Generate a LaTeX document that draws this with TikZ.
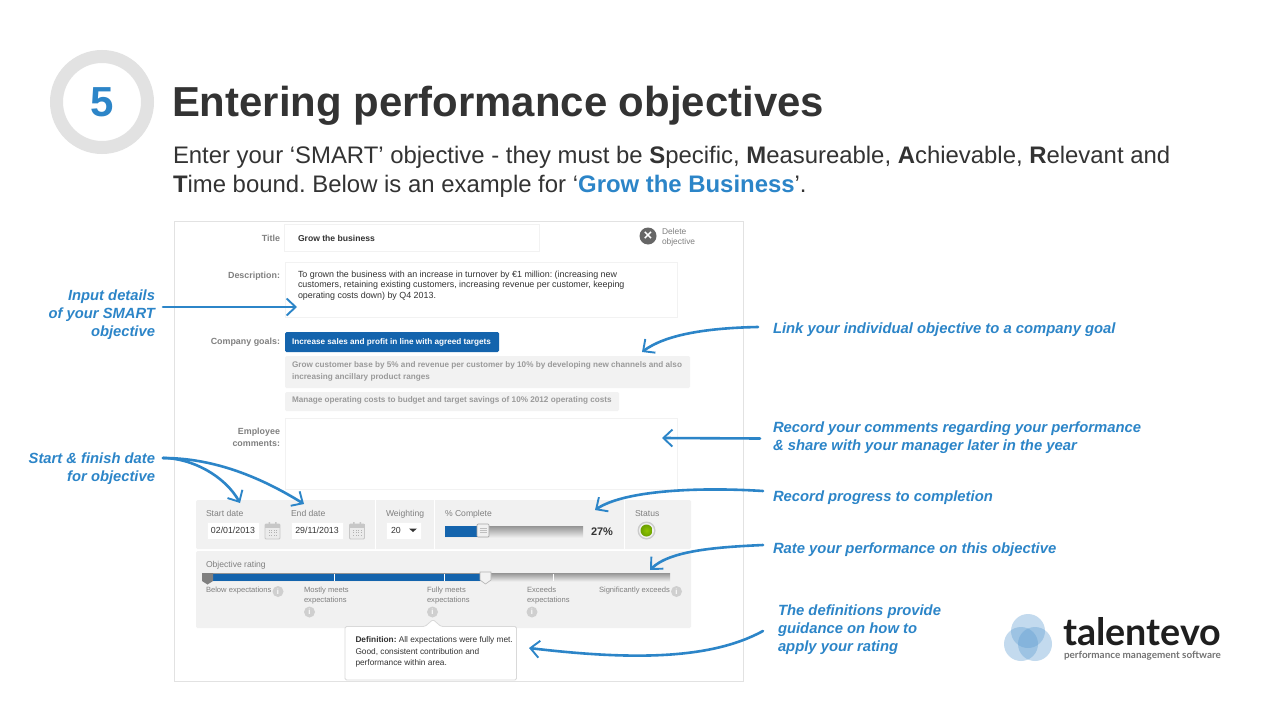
\documentclass[tikz,border=0pt]{standalone}
\usepackage{fontspec}
\setmainfont{Liberation Sans}
\newfontfamily\logofont{Lato}
\usetikzlibrary{arrows.meta,shapes.geometric}
\frenchspacing
\definecolor{hand}{HTML}{2C85C8}
\definecolor{ink}{HTML}{333333}
\definecolor{barblue}{HTML}{1464AD}
\definecolor{panel}{HTML}{F1F1F1}
\definecolor{edge}{HTML}{E2E2E2}
\definecolor{soft}{HTML}{F2F2F2}
\definecolor{lab}{HTML}{808080}
\definecolor{infoc}{HTML}{CFCFCF}
\definecolor{logoblue}{HTML}{5B9BD0}
\definecolor{ledlight}{HTML}{8FC400}
\definecolor{leddark}{HTML}{6BA000}
\tikzset{
  x=1pt,y=-1pt,
  txt/.style={inner sep=0pt,outer sep=0pt},
  headline/.style={txt,anchor=base west,text=ink,font=\fontsize{41.9}{48}\selectfont\bfseries},
  intro/.style={txt,anchor=base west,text=ink,font=\fontsize{23.9}{29}\selectfont},
  noteL/.style={txt,anchor=north east,align=right,text=hand,font=\fontsize{14.76}{18}\selectfont\bfseries\itshape},
  noteR/.style={txt,anchor=north west,align=left,text=hand,font=\fontsize{14.82}{18}\selectfont\bfseries\itshape},
  flabel/.style={txt,anchor=base east,align=right,text=lab,font=\fontsize{8.9}{12}\selectfont\bfseries},
  small/.style={txt,anchor=base west,text=lab,font=\fontsize{8.6}{10.4}\selectfont},
  smallblock/.style={txt,anchor=north west,align=left,text=lab,font=\fontsize{7.6}{10.4}\selectfont},
  body/.style={txt,anchor=north west,align=left,text=ink,font=\fontsize{8.9}{10.4}\selectfont},
  goal/.style={txt,anchor=north west,align=left,text=lab!80!white,font=\fontsize{8.17}{12}\selectfont\bfseries},
  fieldbox/.style={draw=soft,fill=white,line width=.8pt},
  softbox/.style={fill=soft,rounded corners=1.5pt},
  panelbox/.style={fill=panel,rounded corners=1.5pt},
  inputbox/.style={fill=white,draw=soft,line width=.5pt},
  infodot/.style={circle,fill=infoc,text=white,inner sep=0pt,minimum size=11pt,font=\fontsize{7.5}{7.5}\selectfont\bfseries},
  track/.style={top color=black!42,bottom color=black!8},
  sketch/.style={draw=hand,line width=2.6pt,line cap=round,-{Straight Barb[length=9pt,width=17pt,line width=1.9pt]}},
}
\begin{document}
\begin{tikzpicture}
\useasboundingbox (0,0) rectangle (1280,720);
\fill[white] (0,0) rectangle (1280,720);

% number badge
\node[circle,draw=edge,line width=13pt,minimum size=91pt,inner sep=0pt,text=hand,font=\fontsize{42}{44}\selectfont\bfseries] (badge) at (102,102) {5};
\node[headline] (heading) at (172,116) {Entering performance objectives};
\node[intro] (l1) at (173,163.5) {Enter your ‘SMART’ objective - they must be \textbf{S}pecific, \textbf{M}easureable, \textbf{A}chievable, \textbf{R}elevant and};
\node[intro] (l2) at (173,192) {\textbf{T}ime bound. Below is an example for ‘\textcolor{hand}{\textbf{Grow the Business}}’.};

% form frame
\draw[edge,fill=white,line width=1pt] (174.5,221.5) rectangle (743.5,681.5);
\node[flabel] (tl) at (280,241) {Title};
\draw[fieldbox] (284.5,224.5) rectangle (539.5,251.5);
\node[txt,anchor=base west,text=ink,font=\fontsize{8.6}{10}\selectfont\bfseries] (tv) at (298,241) {Grow the business};
\node[circle,fill=black!60,text=white,inner sep=0pt,minimum size=17pt,font=\fontsize{15}{15}\selectfont\bfseries] (del) at (648,236) {×};
\node[smallblock,font=\fontsize{8.4}{10.4}\selectfont] (delt) at (662,228) {Delete\\objective};

\node[flabel] (dl) at (280,278.5) {Description:};
\draw[fieldbox] (285.5,262.5) rectangle (677.5,317.5);
\node[body] (dv) at (298,271) {To grown the business with an increase in turnover by €1 million: (increasing new\\customers, retaining existing customers, increasing revenue per customer, keeping\\operating costs down) by Q4 2013.};

\node[flabel] (gl) at (280,344) {Company goals:};
\fill[barblue,rounded corners=1.5pt] (285,332) rectangle (499,352);
\node[txt,anchor=base west,text=white,font=\fontsize{8.17}{10}\selectfont\bfseries] (g1) at (292,344.5) {Increase sales and profit in line with agreed targets};
\fill[softbox] (285,356) rectangle (690,388);
\node[goal] (g2) at (292,361.5) {Grow customer base by 5\% and revenue per customer by 10\% by developing new channels and also\\increasing ancillary product ranges};
\fill[softbox] (285,392) rectangle (619,411);
\node[goal] (g3) at (292,397) {Manage operating costs to budget and target savings of 10\% 2012 operating costs};

\node[flabel] (cl) at (280,434.5) {Employee};
\node[flabel] (cl2) at (280,446.5) {comments:};
\draw[fieldbox] (285.5,418.5) rectangle (677.5,489.5);

% date panel
\fill[panelbox] (196,500) rectangle (691,549);
\draw[white,line width=.8pt] (375.5,500) -- (375.5,549) (434.5,500) -- (434.5,549) (624.5,500) -- (624.5,549);
\node[small] (sd) at (206,516) {Start date};
\node[small] (ed) at (291,516) {End date};
\node[small] (wg) at (386,516) {Weighting};
\node[small] (pc) at (445,516) {\% Complete};
\node[small] (st) at (635,516) {Status};
\draw[inputbox] (207,522) rectangle (259,539);
\node[txt,text=ink,font=\fontsize{8.8}{10}\selectfont] (sdv) at (233,530.5) {02/01/2013};
\draw[inputbox] (291,522) rectangle (343,539);
\node[txt,text=ink,font=\fontsize{8.8}{10}\selectfont] (edv) at (317,530.5) {29/11/2013};
\foreach \cx in {272.5,357} {
  \draw[black!22,fill=white!92!black,line width=.8pt,rounded corners=1pt] (\cx-7.5,524) rectangle (\cx+7.5,539);
  \fill[black!22] (\cx-7.5,524) rectangle (\cx+7.5,527.5);
  \fill[black!22] (\cx-4,522) rectangle (\cx-2.5,525) (\cx+2.5,522) rectangle (\cx+4,525);
  \foreach \gx in {-4,-1.5,1,3.5} \foreach \gy in {529.5,532,534.5} \fill[black!30] (\cx+\gx,\gy) rectangle +(1.3,1.3);
}
\draw[inputbox] (386,522) rectangle (421,539);
\node[txt,anchor=base west,text=ink,font=\fontsize{8.8}{10}\selectfont] (wv) at (391,533.5) {20};
\fill[ink] (409,528.5) -- (417,528.5) -- (413,532) -- cycle;
\fill[track] (445,526) rectangle (583,537);
\fill[barblue] (445,526) rectangle (480,537);
\draw[black!35,fill=black!6,rounded corners=1pt,line width=.7pt] (477,524) rectangle (489,537);
\foreach \ty in {528,530,532} \draw[black!25,line width=.5pt] (479.5,\ty) -- (486.5,\ty);
\node[txt,anchor=base west,text=ink,font=\fontsize{11}{12}\selectfont\bfseries] (pv) at (591,535) {27\%};
\fill[black!20] (646.5,530.5) circle (9pt);
\fill[white!88!gray] (646.5,530.5) circle (7.5pt);
\shade[inner color=ledlight,outer color=leddark] (646.5,530.5) circle (6pt);

% rating panel
\fill[panelbox] (196,551) rectangle (691,628);
\node[small] (or) at (206,567) {Objective rating};
\fill[track] (207,573) rectangle (670,581);
\fill[barblue] (212,573.5) rectangle (484,581);
\draw[white,line width=.6pt] (334.5,574) -- (334.5,581) (444.5,574) -- (444.5,581) (553.5,574) -- (553.5,581);
\fill[black!50] (202,573) -- (213,573) -- (213,581) -- (207.5,584.5) -- (202,581) -- cycle;
\draw[black!30,fill=black!5,line width=.6pt] (480,572) -- (491,572) -- (491,580) -- (485.5,584) -- (480,580) -- cycle;
\node[smallblock] (r1) at (206,587) {Below expectations};
\node[infodot] (i1) at (278,591.5) {i};
\node[smallblock] (r2) at (304,587) {Mostly meets\\expectations};
\node[infodot] (i2) at (309.5,612) {i};
\node[smallblock] (r3) at (427,587) {Fully meets\\expectations};
\node[smallblock] (r4) at (527,587) {Exceeds\\expectations};
\node[infodot] (i4) at (532,612) {i};
\node[smallblock] (r5) at (599,587) {Significantly exceeds};
\node[infodot] (i5) at (676.5,591.5) {i};

% tooltip
\draw[black!15,fill=white,line width=.8pt,rounded corners=1.5pt] (345,626.5) -- (425,626.5) -- (433,619.5) -- (441,626.5) -- (516.5,626.5) -- (516.5,680) -- (345,680) -- cycle;
\node[infodot] (i3) at (432.5,612) {i};
\node[body,font=\fontsize{8.3}{11.6}\selectfont] (tip) at (355.5,636.5) {\textbf{Definition:} All expectations were fully met.\\Good, consistent contribution and\\performance within area.};

% annotations
\node[noteL] (n1) at (155,289.5) {Input details\\of your SMART\\objective};
\node[noteL] (n2) at (155,452.5) {Start \& finish date\\for objective};
\node[noteR] (n3) at (773,322.5) {Link your individual objective to a company goal};
\node[noteR] (n4) at (773,421.5) {Record your comments regarding your performance\\\& share with your manager later in the year};
\node[noteR] (n5) at (773,490.5) {Record progress to completion};
\node[noteR] (n6) at (773,542.5) {Rate your performance on this objective};
\node[noteR] (n7) at (778,604.5) {The definitions provide\\guidance on how to\\apply your rating};

\coordinate (a1s) at (163,307);
\coordinate (a1e) at (297,307);
\coordinate (a2s) at (758,327);
\coordinate (a2e) at (642,352);
\coordinate (a3s) at (760,438.5);
\coordinate (a3e) at (662,438);
\coordinate (a4s) at (763,491);
\coordinate (a4e) at (595,510);
\coordinate (a5s) at (763,545);
\coordinate (a5e) at (650,570);
\coordinate (a6s) at (763,631);
\coordinate (a6e) at (529,648);
\coordinate (a7s) at (163,458);
\coordinate (a7e) at (240,503);
\coordinate (a8e) at (304,504);
\draw[sketch] (a1s) -- (a1e);
\draw[sketch] (a2s) .. controls (705,328) and (665,335) .. (a2e);
\draw[sketch] (a3s) -- (a3e);
\draw[sketch] (a4s) .. controls (700,487) and (625,490) .. (a4e);
\draw[sketch] (a5s) .. controls (720,547) and (670,550) .. (a5e);
\draw[sketch] (a6s) .. controls (710,660) and (630,660) .. (a6e);
\draw[sketch] (a7s) .. controls (192,458) and (225,476) .. (a7e);
\draw[sketch] (a7s) .. controls (215,458) and (262,478) .. (a8e);

% logo
\fill[logoblue,opacity=.36] (1028,631) circle (17pt);
\fill[logoblue,opacity=.36] (1021,644) circle (17pt);
\fill[logoblue,opacity=.36] (1035,644) circle (17pt);
\node[txt,anchor=base west,text=black!88,font=\logofont\fontsize{37.7}{38}\selectfont\bfseries] (logo) at (1063,645) {talentevo};
\node[txt,anchor=base west,text=black!55,font=\logofont\fontsize{9.9}{11}\selectfont\bfseries] (tag) at (1064,658.5) {performance management software};
\end{tikzpicture}
\end{document}
